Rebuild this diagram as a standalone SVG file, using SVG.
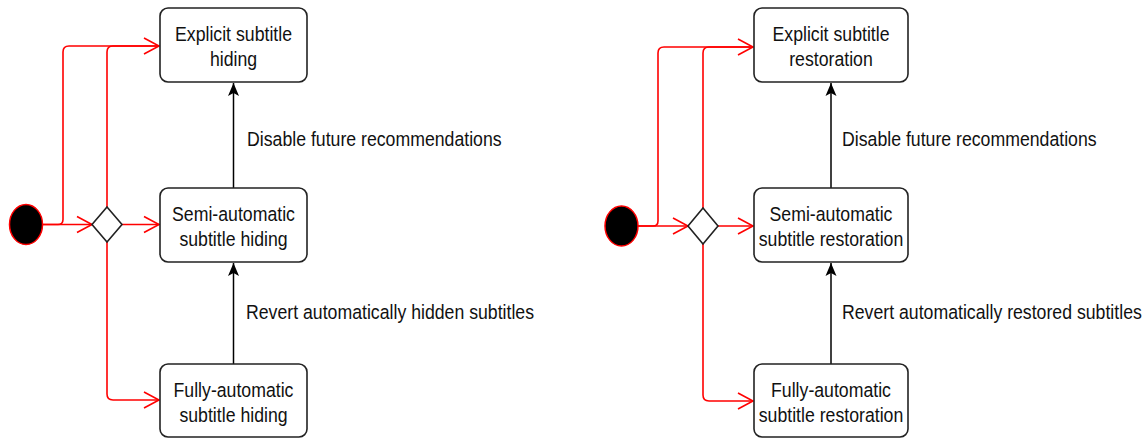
<svg xmlns="http://www.w3.org/2000/svg" width="1148" height="439" viewBox="0 0 1148 439">
<style>
.box{fill:#fff;stroke:#222;stroke-width:1.6}
.start{fill:#000;stroke:#f00;stroke-width:1.5}
.dia{fill:#fff;stroke:#222;stroke-width:1.6}
.red{fill:none;stroke:#f00;stroke-width:1.6}
.blk{fill:none;stroke:#000;stroke-width:1.5}
text{font-family:"Liberation Sans",Arial,sans-serif;font-size:17.7px;fill:#111}
.c{text-anchor:middle}
</style>
<defs>
<marker id="ro" markerUnits="userSpaceOnUse" viewBox="-18 -10 20 20" markerWidth="20" markerHeight="20" refX="0" refY="0" orient="auto">
<path d="M-15,-8 L0,0 L-15,8" fill="none" stroke="#f00" stroke-width="1.6"/>
</marker>
<marker id="bk" markerUnits="userSpaceOnUse" viewBox="-14 -7 15 14" markerWidth="15" markerHeight="14" refX="0" refY="0" orient="auto">
<path d="M0,0 L-13,-5.5 L-10,0 L-13,5.5 Z" fill="#000"/>
</marker>
</defs>
<g id="connectors">
<path class="red" d="M43,224.5 L92,224.5" marker-end="url(#ro)"/>
<path class="red" d="M43,224.5 L58,224.5 Q63,224.5 63,219.5 L63,52 Q63,46 69,46 L159,46" marker-end="url(#ro)"/>
<path class="red" d="M107,207 L107,52 Q107,46 113,46 L159,46"/>
<path class="red" d="M122,224.5 L159,224.5" marker-end="url(#ro)"/>
<path class="red" d="M107,242 L107,394 Q107,400 113,400 L159,400" marker-end="url(#ro)"/>
<path class="blk" d="M233.5,188 L233.5,83" marker-end="url(#bk)"/>
<path class="blk" d="M233.5,364 L233.5,263" marker-end="url(#bk)"/>
<path class="red" d="M638,226 L688,226" marker-end="url(#ro)"/>
<path class="red" d="M638,226 L653,226 Q658,226 658,221 L658,53 Q658,47 664,47 L753,47" marker-end="url(#ro)"/>
<path class="red" d="M703,208 L703,53 Q703,47 709,47 L753,47"/>
<path class="red" d="M718,226 L753,226" marker-end="url(#ro)"/>
<path class="red" d="M703,244 L703,395 Q703,401 709,401 L753,401" marker-end="url(#ro)"/>
<path class="blk" d="M831,188 L831,83" marker-end="url(#bk)"/>
<path class="blk" d="M831,364 L831,263" marker-end="url(#bk)"/>
<text transform="translate(247,146) scale(1,1.18)">Disable future recommendations</text>
<text transform="translate(246,319) scale(1,1.18)">Revert automatically hidden subtitles</text>
<text transform="translate(842,146) scale(1,1.18)">Disable future recommendations</text>
<text transform="translate(842,319) scale(1,1.18)">Revert automatically restored subtitles</text>
</g>
<g id="start-left"><ellipse class="start" cx="26" cy="224.5" rx="16.5" ry="20"/></g>
<g id="decision-left"><path class="dia" d="M107,207 L122,224.5 L107,242 L92,224.5 Z"/></g>
<g id="explicit-hiding">
<rect class="box" x="160" y="8" width="147" height="74" rx="8"/>
<text class="c" transform="translate(233.5,40.5) scale(1,1.18)">Explicit subtitle</text>
<text class="c" transform="translate(233.5,65.5) scale(1,1.18)">hiding</text>
</g>
<g id="semi-hiding">
<rect class="box" x="160" y="188" width="147" height="74" rx="8"/>
<text class="c" transform="translate(233.5,220.5) scale(1,1.18)">Semi-automatic</text>
<text class="c" transform="translate(233.5,245.5) scale(1,1.18)">subtitle hiding</text>
</g>
<g id="fully-hiding">
<rect class="box" x="160" y="364" width="147" height="73" rx="8"/>
<text class="c" transform="translate(233.5,397) scale(1,1.18)">Fully-automatic</text>
<text class="c" transform="translate(233.5,421.5) scale(1,1.18)">subtitle hiding</text>
</g>
<g id="start-right"><ellipse class="start" cx="621.5" cy="226" rx="16.5" ry="20"/></g>
<g id="decision-right"><path class="dia" d="M703,208 L718,226 L703,244 L688,226 Z"/></g>
<g id="explicit-restoration">
<rect class="box" x="754" y="8" width="154" height="74" rx="8"/>
<text class="c" transform="translate(831,40.5) scale(1,1.18)">Explicit subtitle</text>
<text class="c" transform="translate(831,65.5) scale(1,1.18)">restoration</text>
</g>
<g id="semi-restoration">
<rect class="box" x="754" y="188" width="154" height="74" rx="8"/>
<text class="c" transform="translate(831,220.5) scale(1,1.18)">Semi-automatic</text>
<text class="c" transform="translate(831,245.5) scale(1,1.18)">subtitle restoration</text>
</g>
<g id="fully-restoration">
<rect class="box" x="754" y="364" width="154" height="73" rx="8"/>
<text class="c" transform="translate(831,397) scale(1,1.18)">Fully-automatic</text>
<text class="c" transform="translate(831,421.5) scale(1,1.18)">subtitle restoration</text>
</g>
</svg>
